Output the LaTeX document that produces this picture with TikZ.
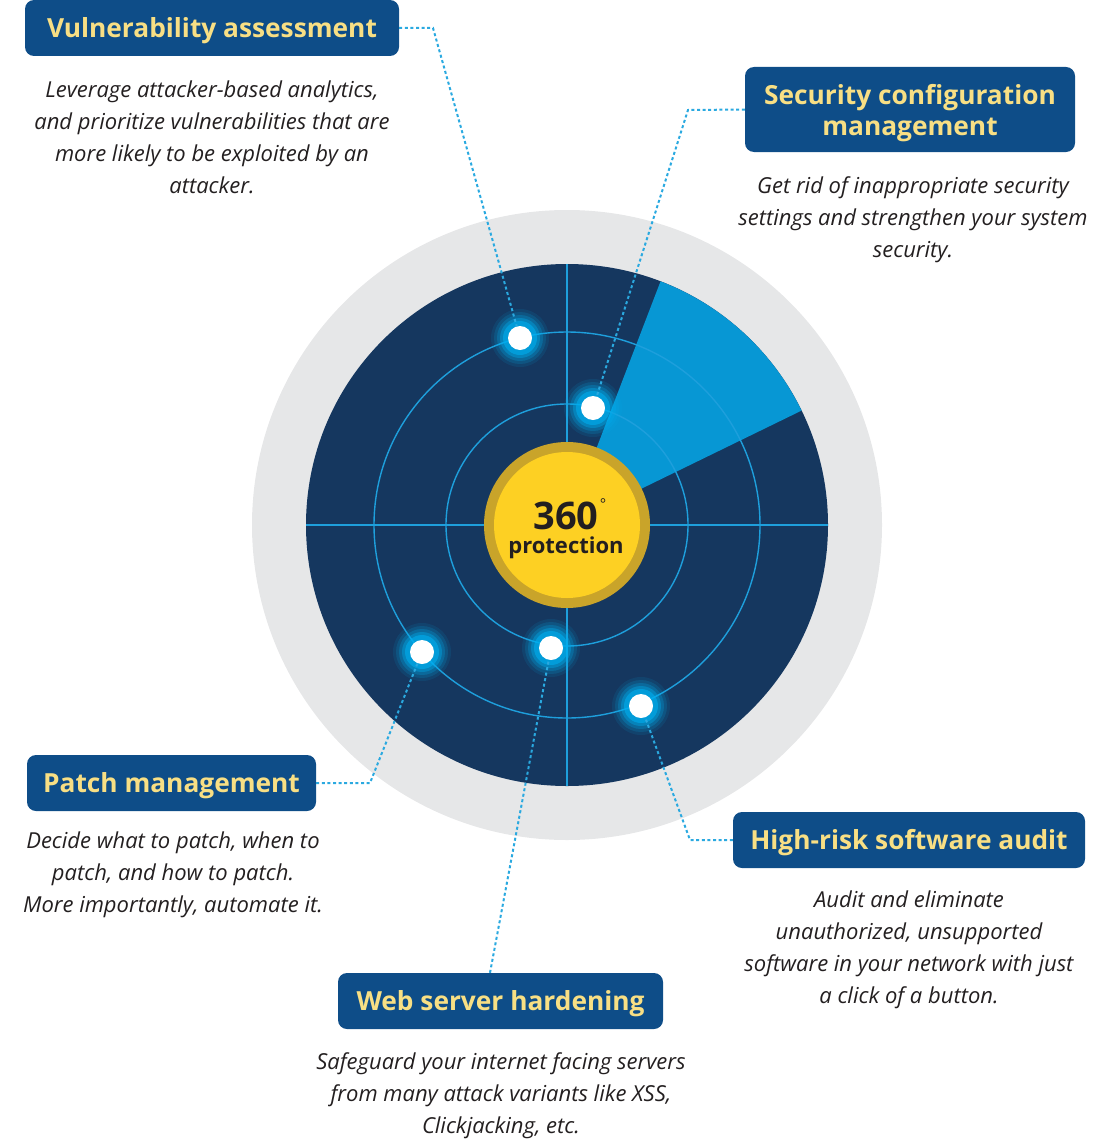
\documentclass[tikz,border=0pt]{standalone}
\usepackage{fontspec}
\setmainfont{Open Sans}
\definecolor{graybg}{HTML}{E6E7E8}
\definecolor{navy}{HTML}{15375F}
\definecolor{wedgec}{HTML}{0797D4}
\definecolor{gridc}{HTML}{1E9FDC}
\definecolor{boxc}{HTML}{0E4D88}
\definecolor{titlec}{HTML}{F8DF84}
\definecolor{goldc}{HTML}{C9A42A}
\definecolor{yellowc}{HTML}{FDD023}
\definecolor{darktext}{HTML}{231F20}
\definecolor{glowc}{HTML}{00AEEF}
\definecolor{linkc}{HTML}{2AA9E0}
\tikzset{
  titlebox/.style={fill=boxc, rounded corners=9pt, text=titlec, align=center,
    font=\fontsize{26.3}{31}\selectfont\bfseries, inner sep=0pt, minimum height=56pt},
  titletext/.style={text=titlec, align=center, font=\fontsize{26.3}{31}\selectfont\bfseries, inner sep=0pt},
  oneline/.style={text height=19pt, text depth=0pt},
  desc/.style={align=center, text=darktext, font=\fontsize{22}{32}\selectfont\itshape, inner sep=0pt},
  gridline/.style={draw=gridc, line width=1.4pt},
  link/.style={draw=linkc, line width=2pt, dash pattern=on 3pt off 2.6pt},
  dot/.style={circle, fill=white, minimum size=24pt, inner sep=0pt}
}
\begin{document}
\begin{tikzpicture}[x=1pt,y=-1pt]
\useasboundingbox (0,0) rectangle (1094,1148);
% radar
\coordinate (c) at (567,525);
\fill[graybg] (c) circle (315);
\fill[navy] (c) circle (261);
\fill[wedgec] (c) -- ++(-69:261) arc[start angle=-69, end angle=-26, radius=261] -- cycle;
\draw[gridline] (c) circle (193);
\draw[gridline] (c) circle (121);
\draw[gridline] (306,525) -- (828,525);
\draw[gridline] (567,264) -- (567,786);
\fill[goldc] (c) circle (83);
\fill[yellowc] (c) circle (73);
\node[font=\fontsize{38}{40}\selectfont\bfseries, text=darktext, inner sep=0pt] (n360) at (566,516) {360};
\node[font=\fontsize{15}{15}\selectfont, text=darktext, inner sep=0pt, anchor=west] (deg) at ([xshift=1pt,yshift=-2pt]n360.north east) {°};
\node[font=\fontsize{22}{24}\selectfont\bfseries, text=darktext, inner sep=0pt] (prot) at (566,548) {protection};
% dots
\coordinate (p1) at (520,338);
\coordinate (p2) at (593,408);
\coordinate (p3) at (422,652);
\coordinate (p4) at (551,648);
\coordinate (p5) at (641,706);
\foreach \p in {p1,p2,p3,p4,p5}{
  \foreach \r/\o in {29/0.10, 26/0.16, 23/0.24, 20/0.38, 17/0.6}{
    \fill[glowc, opacity=\o] (\p) circle (\r);
  }
}
\node[dot] (d1) at (p1) {};
\node[dot] (d2) at (p2) {};
\node[dot] (d3) at (p3) {};
\node[dot] (d4) at (p4) {};
\node[dot] (d5) at (p5) {};
% title boxes
\node[titlebox, oneline, minimum width=374pt] (t1) at (212,28) {Vulnerability assessment};
\node[titlebox, minimum width=330pt, minimum height=85pt] (t2) at (910,109.5) {};
\node[titletext] (t2text) at (910,113.5) {Security configuration\\management};
\node[titlebox, oneline, minimum width=289pt] (t3) at (171.5,783) {Patch management};
\node[titlebox, oneline, minimum width=352pt] (t4) at (909,840) {High-risk software audit};
\node[titlebox, oneline, minimum width=325pt] (t5) at (500.5,1001) {Web server hardening};
% descriptions
\node[desc] (s1) at (212,137) {Leverage attacker-based analytics,\\and prioritize vulnerabilities that are\\more likely to be exploited by an\\attacker.};
\node[desc] (s2) at (913,220) {Get rid of inappropriate security\\settings and strengthen your system\\security.};
\node[desc] (s3) at (173,875) {Decide what to patch, when to\\patch, and how to patch.\\More importantly, automate it.};
\node[desc] (s4) at (909,950) {Audit and eliminate\\unauthorized, unsupported\\software in your network with just\\a click of a button.};
\node[desc] (s5) at (501,1096) {Safeguard your internet facing servers\\from many attack variants like XSS,\\Clickjacking, etc.};
% connectors
\coordinate (b1) at (433,28);
\coordinate (b2) at (688,110);
\coordinate (b3) at (370,783);
\coordinate (b4) at (690,840);
\draw[link] (t1.east) -- (b1) -- (d1);
\draw[link] (t2.west) -- (b2) -- (d2);
\draw[link] (t3.east) -- (b3) -- (d3);
\draw[link] (t4.west) -- (b4) -- (d5);
\draw[link] ([xshift=-10.5pt]t5.north) -- (d4);
\end{tikzpicture}
\end{document}
